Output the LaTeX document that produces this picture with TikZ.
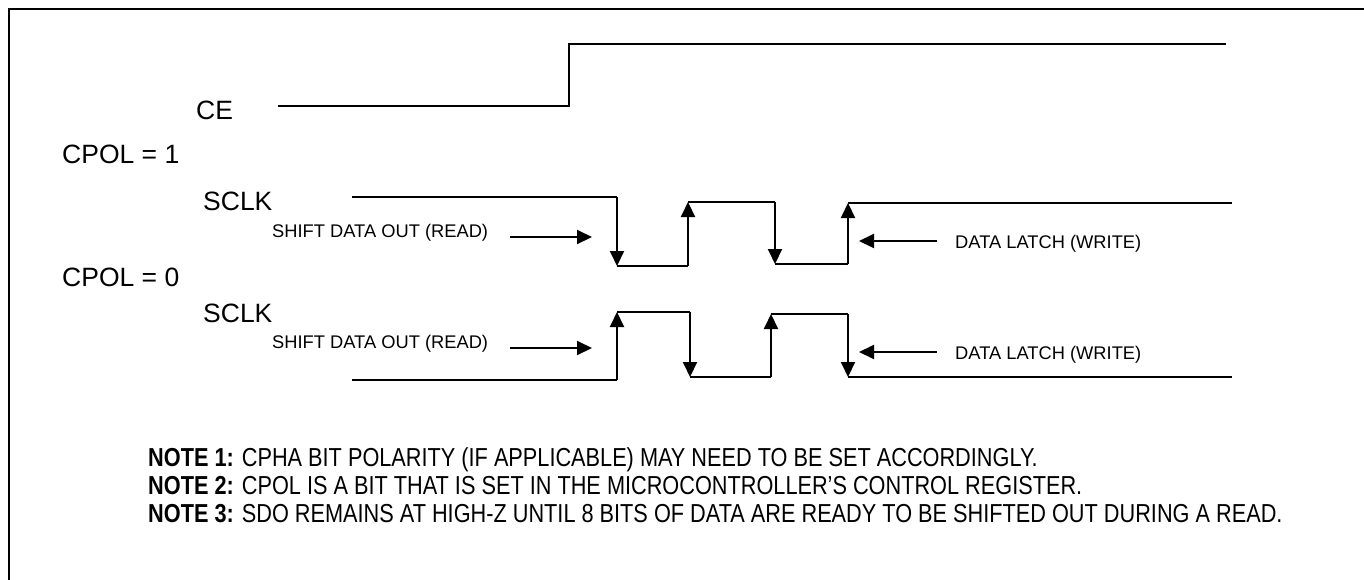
\documentclass[tikz,border=0pt]{standalone}
\usepackage{fontspec}
\setmainfont{Liberation Sans}
\newfontfamily\narrowfont[FakeStretch=0.835]{Liberation Sans}
\usetikzlibrary{arrows.meta}
\begin{document}
\begin{tikzpicture}[x=1pt,y=-1pt,
  wave/.style={line width=2pt},
  tip/.style={line width=2pt,-{Triangle[length=15pt,width=14pt]}},
  big/.style={font=\fontsize{26.5}{30}\selectfont, inner sep=0pt, anchor=base west},
  small/.style={font=\fontsize{18.3}{22}\selectfont, inner sep=0pt, anchor=base west},
  note/.style={font=\narrowfont\fontsize{26}{30}\selectfont, inner sep=0pt, anchor=base west}]
\useasboundingbox (0,0) rectangle (1364,580);
\draw[line width=2.5pt] (9,580) -- (9,9) -- (1364,9);

% labels
\node[big] (ce) at (196,120) {CE};
\node[big] (cpol1) at (62,164) {CPOL = 1};
\node[big] (sclk1) at (203,210) {SCLK};
\node[small] (shift1) at (272,237) {SHIFT DATA OUT (READ)};
\node[small] (latch1) at (955,248) {DATA LATCH (WRITE)};
\node[big] (cpol0) at (62,286) {CPOL = 0};
\node[big] (sclk2) at (203,322) {SCLK};
\node[small] (shift2) at (272,348) {SHIFT DATA OUT (READ)};
\node[small] (latch2) at (955,359) {DATA LATCH (WRITE)};

% CE waveform
\coordinate (c0) at (278,106);
\coordinate (c1) at (569,106);
\coordinate (c2) at (569,44);
\coordinate (c3) at (1226,44);
\draw[wave] (c0) -- (c1) -- (c2) -- (c3);

% SCLK CPOL=1
\coordinate (a0) at (352,197);
\coordinate (a1) at (617,197);
\coordinate (a2) at (617,266);
\coordinate (a3) at (688,266);
\coordinate (a4) at (688,202);
\coordinate (a5) at (775,202);
\coordinate (a6) at (775,264);
\coordinate (a7) at (848,264);
\coordinate (a8) at (848,203);
\coordinate (a9) at (1232,203);
\draw[wave] (a0) -- (a1);
\draw[tip] (a1) -- (a2);
\draw[wave] (a2) -- (a3);
\draw[tip] (a3) -- (a4);
\draw[wave] (a4) -- (a5);
\draw[tip] (a5) -- (a6);
\draw[wave] (a6) -- (a7);
\draw[tip] (a7) -- (a8);
\draw[wave] (a8) -- (a9);

\coordinate (s1a) at (510,237);
\coordinate (s1b) at (592,237);
\draw[tip] (s1a) -- (s1b);
\coordinate (l1a) at (937,241);
\coordinate (l1b) at (859,241);
\draw[tip] (l1a) -- (l1b);

% SCLK CPOL=0
\coordinate (b0) at (352,380);
\coordinate (b1) at (617,380);
\coordinate (b2) at (617,312);
\coordinate (b3) at (690,312);
\coordinate (b4) at (690,377);
\coordinate (b5) at (771,377);
\coordinate (b6) at (771,314);
\coordinate (b7) at (848,314);
\coordinate (b8) at (848,377);
\coordinate (b9) at (1232,377);
\draw[wave] (b0) -- (b1);
\draw[tip] (b1) -- (b2);
\draw[wave] (b2) -- (b3);
\draw[tip] (b3) -- (b4);
\draw[wave] (b4) -- (b5);
\draw[tip] (b5) -- (b6);
\draw[wave] (b6) -- (b7);
\draw[tip] (b7) -- (b8);
\draw[wave] (b8) -- (b9);

\coordinate (s2a) at (510,348);
\coordinate (s2b) at (592,348);
\draw[tip] (s2a) -- (s2b);
\coordinate (l2a) at (937,352);
\coordinate (l2b) at (859,352);
\draw[tip] (l2a) -- (l2b);

% notes
\node[note] (n1) at (148,466) {\textbf{NOTE 1:} CPHA BIT POLARITY (IF APPLICABLE) MAY NEED TO BE SET ACCORDINGLY.};
\node[note] (n2) at (148,494) {\textbf{NOTE 2:} CPOL IS A BIT THAT IS SET IN THE MICROCONTROLLER’S CONTROL REGISTER.};
\node[note] (n3) at (148,522) {\textbf{NOTE 3:} SDO REMAINS AT HIGH-Z UNTIL 8 BITS OF DATA ARE READY TO BE SHIFTED OUT DURING A READ.};
\end{tikzpicture}
\end{document}
